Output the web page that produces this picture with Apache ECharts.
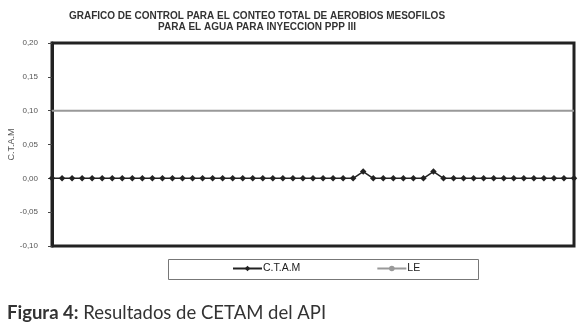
<!DOCTYPE html>
<html>
<head>
<meta charset="utf-8">
<script src="https://cdn.jsdelivr.net/npm/echarts@6/dist/echarts.min.js"></script>
<style>
html,body{margin:0;padding:0;background:#fff;}
#c{width:580px;height:335px;}
</style>
</head>
<body>
<div id="c"></div>
<script>
var titleLines = ['GRAFICO DE CONTROL PARA EL CONTEO TOTAL DE AEROBIOS MESOFILOS', 'PARA EL AGUA PARA INYECCION PPP III'];
var yAxisName = 'C.T.A.M';
var seriesNames = ['C.T.A.M', 'LE'];
var categories = [1,2,3,4,5,6,7,8,9,10,11,12,13,14,15,16,17,18,19,20,21,22,23,24,25,26,27,28,29,30,31,32,33,34,35,36,37,38,39,40,41,42,43,44,45,46,47,48,49,50,51,52,53];
var ctam = [0,0,0,0,0,0,0,0,0,0,0,0,0,0,0,0,0,0,0,0,0,0,0,0,0,0,0,0,0,0,0,0.01,0,0,0,0,0,0,0.01,0,0,0,0,0,0,0,0,0,0,0,0,0,0];
var le = [0.1,0.1,0.1,0.1,0.1,0.1,0.1,0.1,0.1,0.1,0.1,0.1,0.1,0.1,0.1,0.1,0.1,0.1,0.1,0.1,0.1,0.1,0.1,0.1,0.1,0.1,0.1,0.1,0.1,0.1,0.1,0.1,0.1,0.1,0.1,0.1,0.1,0.1,0.1,0.1,0.1,0.1,0.1,0.1,0.1,0.1,0.1,0.1,0.1,0.1,0.1,0.1,0.1];
var yMin = -0.1, yMax = 0.2, yStep = 0.05;
var captionBold = 'Figura 4:';
var captionRest = ' Resultados de CETAM del API';

var chart = echarts.init(document.getElementById('c'), null, {renderer: 'canvas'});
chart.setOption({
  animation: false,
  backgroundColor: '#fff',
  textStyle: {fontFamily: 'Liberation Sans, Arial, sans-serif'},
  title: {
    text: titleLines.join('\n'),
    left: 252, top: 6, textAlign: 'center',
    textStyle: {fontSize: 10, fontWeight: 'bold', color: '#333', lineHeight: 11, fontFamily: 'Liberation Sans, Arial, sans-serif'}
  },
  grid: {left: 52, right: 6, top: 43, bottom: 89, show: true, borderColor: '#222', borderWidth: 3, backgroundColor: '#fff',
         containLabel: false, outerBoundsMode: 'none'},
  legend: {
    data: [{name: seriesNames[0]}, {name: seriesNames[1]}],
    left: 232, top: 263, itemWidth: 29, itemHeight: 7, itemGap: 76,
    textStyle: {fontSize: 10.5, color: '#222', padding: [0,0,0,-4]},
    padding: 0
  },
  xAxis: {
    type: 'category', data: categories, boundaryGap: false,
    axisLine: {show: false}, axisTick: {show: false}, axisLabel: {show: false}, splitLine: {show: false}
  },
  yAxis: {
    type: 'value', min: yMin, max: yMax, interval: yStep,
    name: yAxisName, nameLocation: 'middle', nameRotate: 90, nameGap: 36, nameMoveOverlap: false,
    nameTextStyle: {fontSize: 9, color: '#555'},
    axisLine: {show: true, lineStyle: {color: '#222', width: 3}},
    axisTick: {show: true, length: 4, lineStyle: {color: '#444'}},
    axisLabel: {fontSize: 8, color: '#555', margin: 14, formatter: function(v){ return v.toFixed(2).replace('.', ','); }},
    splitLine: {show: false}
  },
  series: [
    {name: seriesNames[0], type: 'line', data: ctam, symbol: 'diamond', symbolSize: 6.5, showSymbol: true,
     lineStyle: {color: '#222', width: 1.5}, itemStyle: {color: '#222'}, z: 3},
    {name: seriesNames[1], type: 'line', data: le, symbol: 'none', showSymbol: false,
     lineStyle: {color: '#999', width: 2}, itemStyle: {color: '#999'}, z: 2}
  ],
  graphic: [
    {type: 'rect', shape: {x: 168.5, y: 259.5, width: 310, height: 20}, style: {fill: 'none', stroke: '#777', lineWidth: 1}, z: -1},
    {type: 'text', left: 7, top: 304, style: {
      text: '{b|' + captionBold + '}{r|' + captionRest + '}',
      rich: {
        b: {fontFamily: 'Lato, sans-serif', fontWeight: 'bold', fontSize: 18.5, fill: '#333'},
        r: {fontFamily: 'Lato, sans-serif', fontSize: 18.5, fill: '#333'}
      }
    }}
  ]
});
</script>
</body>
</html>
